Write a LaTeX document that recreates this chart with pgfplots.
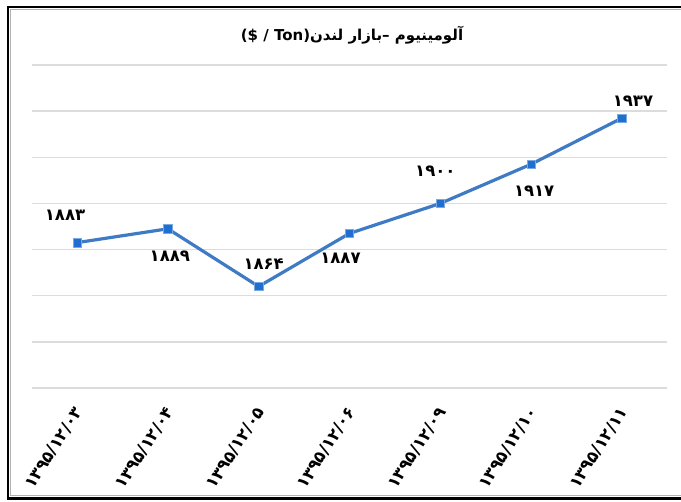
\documentclass[border=0pt]{standalone}
\usepackage{fontspec}
\usepackage{pgfplots}
\pgfplotsset{compat=1.18}
\usepackage{pgfplotstable}
\TeXXeTstate=1
\newfontfamily\pfont[Script=Arabic]{DejaVu Sans}
\newfontfamily\lfont{DejaVu Sans}
\definecolor{lineblue}{HTML}{3F7BC4}
\definecolor{markblue}{HTML}{1E6FCF}
\definecolor{gridgray}{HTML}{DCDCDC}

\pgfplotstableread{
x y lab dx dy
0 1883 ۱۸۸۳ -12 27
1 1889 ۱۸۸۹ 2 -27
2 1864 ۱۸۶۴ 5 22
3 1887 ۱۸۸۷ -9 -25
4 1900 ۱۹۰۰ -5 32
5 1917 ۱۹۱۷ 3 -27
6 1937 ۱۹۳۷ 11 17
}\datatable

\begin{document}
\begin{tikzpicture}
\useasboundingbox (0,0) rectangle (681pt,502pt);
\begin{axis}[
  at={(31.6pt,114pt)}, anchor=south west,
  scale only axis, width=635.8pt, height=323pt,
  xmin=-0.5, xmax=6.5, ymin=1820, ymax=1960,
  ytick={1820,1840,...,1960}, yticklabels={},
  xtick={0,...,6},
  xticklabels={۱۳۹۵/۱۲/۰۳,۱۳۹۵/۱۲/۰۴,۱۳۹۵/۱۲/۰۵,۱۳۹۵/۱۲/۰۶,۱۳۹۵/۱۲/۰۹,۱۳۹۵/۱۲/۱۰,۱۳۹۵/۱۲/۱۱},
  xticklabel style={font=\pfont\bfseries\fontsize{16.5}{16.5}\selectfont, xshift=4pt, yshift=-18pt, rotate=57, anchor=east},
  ymajorgrids, grid style={draw=gridgray, line width=1.5pt},
  axis line style={draw=none},
  major tick length=0pt,
  clip=false,
]
\addplot[lineblue, line width=3.2pt, mark=square*,
  mark options={fill=markblue, draw=markblue!60!white, line width=0.6pt},
  mark size=4.2pt,
  point meta=explicit symbolic,
  visualization depends on={\thisrow{dx} \as \dx},
  visualization depends on={\thisrow{dy} \as \dy},
  nodes near coords,
  nodes near coords style={anchor=center, xshift=\dx pt, yshift=\dy pt,
    font=\pfont\bfseries\fontsize{16.5}{16.5}\selectfont, text=black},
] table[x=x, y=y, meta=lab] {\datatable};
\end{axis}
\node[font=\bfseries\fontsize{15}{15}\selectfont] at (352pt,467pt) {{\lfont(\$ / Ton)}{\pfont\beginR آلومینیوم –بازار لندن\endR}};
\draw[gray!60, line width=1pt] (681pt,492.5pt) -- (10.5pt,492.5pt) -- (10.5pt,6.5pt) -- (681pt,6.5pt);
\draw[black, line width=2.5pt] (681pt,495pt) -- (8pt,495pt) -- (8pt,3.5pt) -- (681pt,3.5pt);
\end{tikzpicture}
\end{document}
